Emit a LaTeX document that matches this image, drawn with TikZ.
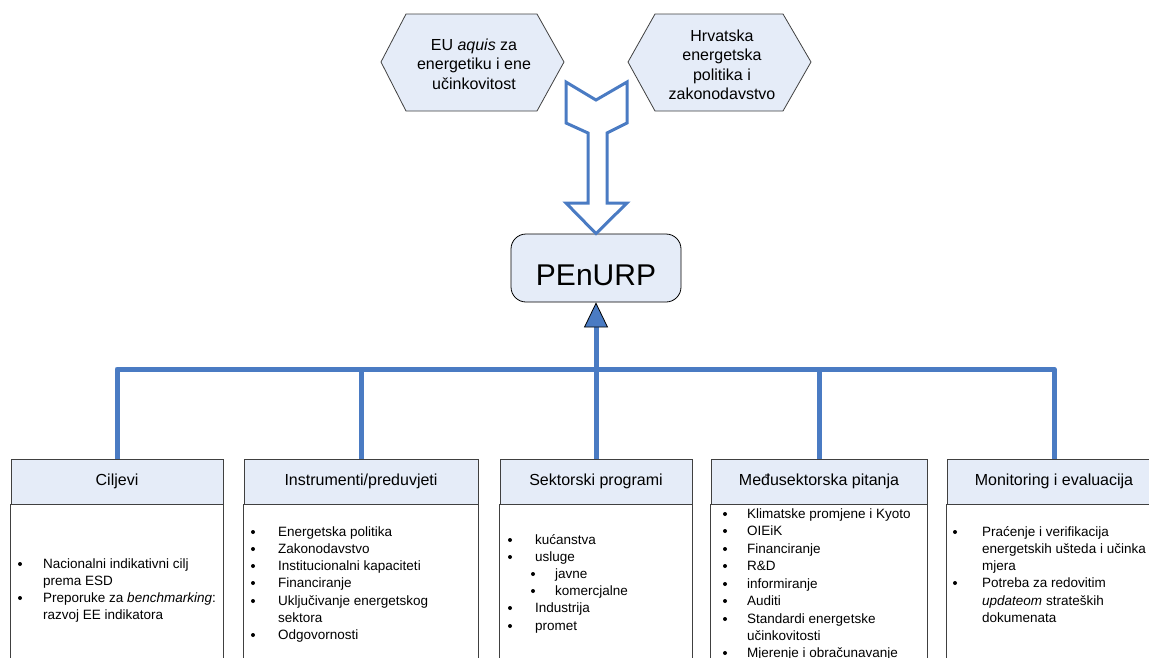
\documentclass[tikz,border=0pt]{standalone}
\usepackage{fontspec}
\setmainfont{Liberation Sans}
\usetikzlibrary{arrows.meta}
\definecolor{eeblue}{HTML}{4A7BC3}
\definecolor{hfill}{HTML}{E5ECF8}
\definecolor{boxgray}{HTML}{404040}
\tikzset{
  hexa/.style={draw=boxgray,fill=hfill,line width=0.8pt},
  hextext/.style={align=center,inner sep=0,font=\fontsize{16}{19.5}\selectfont},
  head/.style={draw=boxgray,fill=hfill,line width=0.8pt,minimum height=45,inner sep=0,
    font=\fontsize{16}{19}\selectfont},
  boxline/.style={draw=boxgray,line width=0.8pt},
  item/.style={anchor=base west,inner sep=0,font=\fontsize{13.5}{16}\selectfont},
  bus/.style={draw=eeblue,line width=5pt,line join=round}
}
\newcommand\headbox[4]{% name, left, right, title
\node (#1) [head,minimum width=#3-#2] at ({(#2+#3)/2},481.5) {#4};
\draw[boxline] (#1.south west) -- ++(0,220);
\draw[boxline] (#1.south east) -- ++(0,220);}
\newcommand\bitem[5]{% name, bullet x, text x, y, text
\node (#1) at (#3,#4+5) [item] {#5};
\fill (#2,#4+1) circle (2pt);}
\newcommand\bline[4]{% name, text x, y, text
\node (#1) at (#2,#3+5) [item] {#4};}
\begin{document}
\begin{tikzpicture}[x=1pt,y=-1pt]
      \useasboundingbox (0,0) rectangle (1149,657);
      \clip (0,0) rectangle (1149,657);

      \draw[hexa] (381,62) -- (406,14) -- (537,14) -- (564,62) -- (537,111) -- (406,111) -- cycle;
      \draw[hexa] (628,62) -- (655,14) -- (783,14) -- (811,62) -- (783,111) -- (655,111) -- cycle;
      \node (eu) at (474,64) [hextext] {EU \textit{aquis} za\\energetiku i ene\\učinkovitost};
      \node (hr) at (722,65) [hextext] {Hrvatska\\energetska\\politika i\\zakonodavstvo};

      \node (pen) [draw=black,fill=hfill,line width=0.8pt,rounded corners=15,minimum width=170,
        minimum height=68,text height=35,text depth=0,font=\fontsize{30}{30}\selectfont]
        at (596,268) {PEnURP};

      \draw[eeblue,line width=3pt,fill=white,line join=miter]
        (566,82) -- (596,100) -- (627,82) -- (627,123) -- (607,133) -- (607,203)
        -- (627,203) -- (pen.north) -- (566,203) -- (588,203) -- (588,133) -- (566,123) -- cycle;

      \headbox{cil}{11}{223}{Ciljevi}
      \headbox{ins}{244}{478}{Instrumenti/preduvjeti}
      \headbox{sek}{500}{692}{Sektorski programi}
      \headbox{med}{711}{927}{Međusektorska pitanja}
      \headbox{mon}{947}{1161}{Monitoring i evaluacija}

      \coordinate (hub) at (596,369);
      \draw[bus] (cil.north) |- (hub);
      \draw[bus] (ins.north) |- (hub);
      \draw[bus] (med.north) |- (hub);
      \draw[bus] (mon.north) |- (hub);
      \draw[bus] (sek.north) -- (hub);
      \draw[bus,-{Triangle[length=25pt,width=24pt,fill=eeblue,color=black,line width=0.8pt]}]
        (hub) -- (pen.south);

      \bitem{c1}{20}{43}{563}{Nacionalni indikativni cilj}
      \bline{c1b}{43}{580}{prema ESD}
      \bitem{c2}{20}{43}{597}{Preporuke za \textit{benchmarking}:}
      \bline{c2b}{43}{614}{razvoj EE indikatora}

      \bitem{i1}{253}{278}{531}{Energetska politika}
      \bitem{i2}{253}{278}{548}{Zakonodavstvo}
      \bitem{i3}{253}{278}{565}{Institucionalni kapaciteti}
      \bitem{i4}{253}{278}{582}{Financiranje}
      \bitem{i5}{253}{278}{600}{Uključivanje energetskog}
      \bline{i5b}{278}{617}{sektora}
      \bitem{i6}{253}{278}{634}{Odgovornosti}

      \bitem{s1}{510}{535}{539}{kućanstva}
      \bitem{s2}{510}{535}{556}{usluge}
      \bitem{s3}{533}{555}{573}{javne}
      \bitem{s4}{533}{555}{590}{komercjalne}
      \bitem{s5}{510}{535}{607}{Industrija}
      \bitem{s6}{510}{535}{625}{promet}

      \bitem{m1}{725}{747}{513}{Klimatske promjene i Kyoto}
      \bitem{m2}{725}{747}{530}{OIEiK}
      \bitem{m3}{725}{747}{548}{Financiranje}
      \bitem{m4}{725}{747}{565}{R\&D}
      \bitem{m5}{725}{747}{583}{informiranje}
      \bitem{m6}{725}{747}{600}{Auditi}
      \bitem{m7}{725}{747}{618}{Standardi energetske}
      \bline{m7b}{747}{635}{učinkovitosti}
      \bitem{m8}{725}{747}{652}{Mjerenje i obračunavanje}

      \bitem{v1}{955}{982}{531}{Praćenje i verifikacija}
      \bline{v1b}{982}{548}{energetskih ušteda i učinka}
      \bline{v1c}{982}{565}{mjera}
      \bitem{v2}{955}{982}{582}{Potreba za redovitim}
      \bline{v2b}{982}{600}{\textit{updateom} strateških}
      \bline{v2c}{982}{617}{dokumenata}
    \end{tikzpicture}
\end{document}
